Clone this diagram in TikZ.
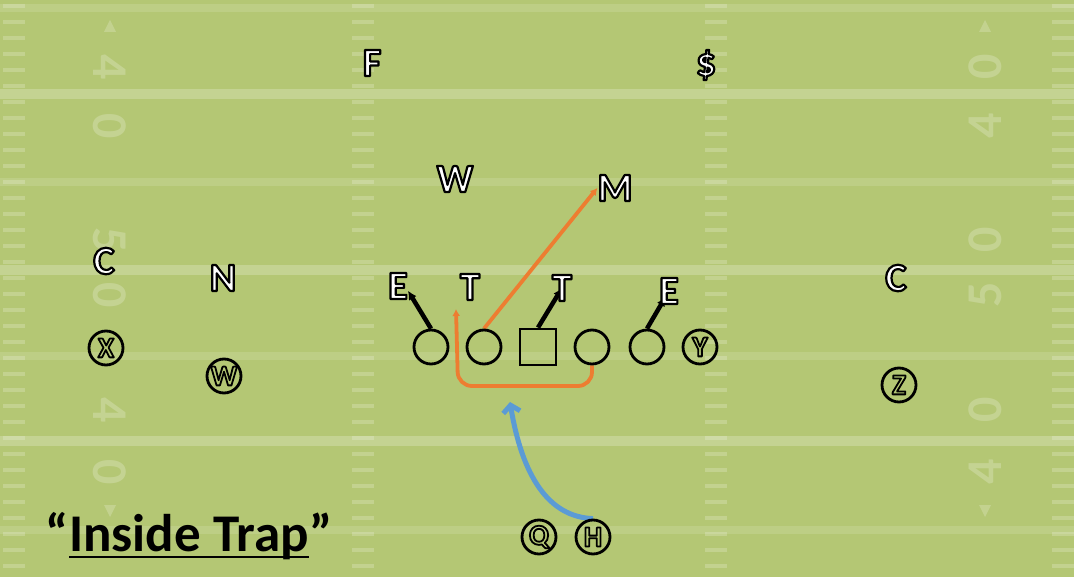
\documentclass[tikz,border=0pt]{standalone}
\usepackage{fontspec}
\setmainfont{Carlito}
\usetikzlibrary{arrows.meta}
\definecolor{field}{RGB}{180,199,116}
\definecolor{pullorange}{RGB}{237,125,49}
\definecolor{runblue}{RGB}{91,155,213}
\newcommand{\dman}[1]{\textcolor{white}{\special{pdf:literal direct 0 G 2.2 w 1 j 2 Tr}#1\special{pdf:literal direct 0 Tr 0 j}}}
\newcommand{\oman}[1]{{\special{pdf:literal direct 0 G 1.8 w 1 j 1 Tr}#1\special{pdf:literal direct 0 Tr 0 j}}}
\pgfdeclarelayer{turf}
\pgfdeclarelayer{routes}
\pgfsetlayers{turf,routes,main}
\tikzset{
  defender/.style={inner sep=0pt, font=\bfseries\fontsize{40}{44}\selectfont},
  lineman/.style={circle, draw, line width=2.8pt, minimum size=34pt, inner sep=0pt},
  snapper/.style={rectangle, draw, line width=2.8pt, minimum size=36pt, inner sep=0pt},
  skill/.style={circle, draw, line width=2.8pt, minimum size=34pt, inner sep=0pt,
    font=\bfseries\fontsize{29}{30}\selectfont},
  block/.style={line width=4.5pt, -{Latex[length=9pt,width=9pt]}},
  pull/.style={pullorange, line width=3.8pt, -{Latex[length=7pt,width=8pt]}},
  run/.style={runblue, line width=5pt, -{Straight Barb[length=7pt,width=17pt]}},
  yard/.style={text=white, text opacity=.22, font=\bfseries\fontsize{50}{50}\selectfont},
  titletext/.style={inner sep=0pt, font=\bfseries\fontsize{53}{60}\selectfont}
}
\begin{document}
\begin{tikzpicture}[x=1pt,y=-1pt]
    \begin{pgfonlayer}{turf}
    \fill[field] (0,0) rectangle (1074,577);
    \foreach \y in {94,270,441}
        \fill[white,opacity=.22] (0,\y-5) rectangle (1074,\y+5);
    \foreach \y in {8,182,356,530}
        \fill[white,opacity=.13] (0,\y-4) rectangle (1074,\y+4);
    \foreach \x in {3,352,705,1052}
        \foreach \y in {4,20,...,576}
            \fill[white,opacity=.2] (\x,\y) rectangle ++(22,4);
    \foreach \d/\y in {4/67,0/126,5/240,0/295,4/410,0/472}
        \node[yard,rotate=-90] at (110,\y) {\d};
    \foreach \d/\y in {0/67,4/126,0/240,5/295,0/410,4/472}
        \node[yard,rotate=90] at (985,\y) {\d};
    \fill[white,opacity=.2] (104,32) -- (116,32) -- (110,20) -- cycle
        (104,505) -- (116,505) -- (110,517) -- cycle
        (979,32) -- (991,32) -- (985,20) -- cycle
        (979,505) -- (991,505) -- (985,517) -- cycle;
    \end{pgfonlayer}

    \node[defender] (F) at (372,63) {\dman{F}};
    \node[defender] (S) at (706,65) {\dman{\$}};
    \node[defender] (W) at (455,179) {\dman{W}};
    \node[defender] (M) at (615,188) {\dman{M}};
    \node[defender] (CL) at (104,261) {\dman{C}};
    \node[defender] (N) at (223,278) {\dman{N}};
    \node[defender] (EL) at (398,286) {\dman{E}};
    \node[defender] (TL) at (470,287) {\dman{T}};
    \node[defender] (TR) at (562,288) {\dman{T}};
    \node[defender] (ER) at (669,291) {\dman{E}};
    \node[defender] (CR) at (896,278) {\dman{C}};

    \node[lineman] (LT) at (431,347) {};
    \node[lineman] (LG) at (484,347) {};
    \node[snapper] (OC) at (538,347) {};
    \node[lineman] (RG) at (592,347) {};
    \node[lineman] (RT) at (647,347) {};
    \node[skill] (Y) at (700,347) {\oman{Y}};
    \node[skill] (X) at (106,348) {\oman{X}};
    \node[skill] (WR) at (224,376) {\oman{W}};
    \node[skill] (Z) at (899,385) {\oman{Z}};
    \node[skill] (Q) at (539,537) {\oman{Q}};
    \node[skill] (H) at (593,537) {\oman{H}};

    \coordinate (trapend) at (456,309);
    \coordinate (runend) at (510,402);
    \begin{pgfonlayer}{routes}
    \draw[block] (LT.north) -- (EL.-25);
    \draw[block] (OC.north) -- (TR.center);
    \draw[block, shorten >=7pt] (RT.north) -- (ER.center);
    \draw[pull] (LG.north) -- (M.west);
    \draw[pull, rounded corners=14pt] (RG.south) |- (458,386) -- (trapend);
    \draw[run] (H.north) .. controls (548,517) and (522,475) .. (runend);
    \end{pgfonlayer}

    \node[titletext, anchor=base west, text depth=6pt] (title) at (69,551) {Inside Trap};
    \node[titletext, anchor=base east] (lq) at (title.base west) {“};
    \node[titletext, anchor=base west] (rq) at (title.base east) {”};
    \draw[line width=2.5pt] (title.south west) -- (title.south east);
\end{tikzpicture}
\end{document}
